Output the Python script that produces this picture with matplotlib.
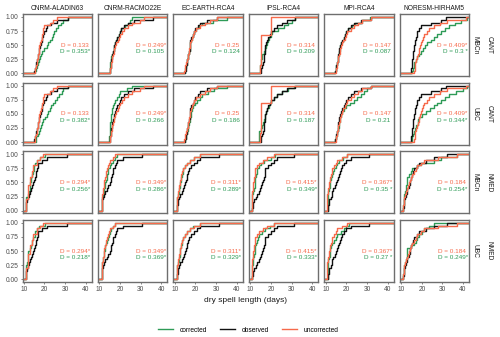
import numpy as np
import matplotlib.pyplot as plt
from matplotlib.lines import Line2D

plt.rcParams['font.family'] = ['Liberation Sans', 'DejaVu Sans']

# model chains (columns), region / method (rows)
models = ["CNRM-ALADIN63", "CNRM-RACMO22E", "EC-EARTH-RCA4",
          "IPSL-RCA4", "MPI-RCA4", "NORESM-HIRHAM5"]
row_regions = ["CANT", "CANT", "NMED", "NMED"]
row_methods = ["MBCn", "UBC", "MBCn", "UBC"]

# dry spell lengths (days), one list per model
obs_cant = [
    [15, 15.5, 16, 16, 16.5, 17, 17, 17.5, 17.5, 18, 18.5, 19, 19, 19.5, 20, 20.5, 21, 23, 26, 31.5],
    [15, 15.2, 15.4, 15.6, 15.8, 15.9, 16, 16.5, 17, 17.3, 17.6, 18.1, 18.7, 19.3, 19.8, 20.4, 22, 24.1, 26.6, 36.3],
    [14.8, 15.2, 15.5, 15.8, 16, 16.3, 16.6, 16.9, 17.1, 17.3, 17.4, 17.5, 18, 18.6, 19.2, 19.9, 21, 22.4, 25.6, 30.5],
    [15, 15.4, 15.8, 16.1, 16.4, 16.6, 16.8, 17, 17.2, 17.3, 17.7, 18.2, 18.8, 19.3, 19.8, 21.5, 23, 25.5, 27.9, 31.9],
    [14.6, 14.8, 15.1, 15.4, 15.7, 15.9, 16.1, 16.3, 16.6, 16.8, 17.4, 18, 18.6, 19.1, 19.6, 20.8, 22.3, 23.7, 27, 31.8],
    [14.6, 14.8, 15, 15.2, 15.4, 15.5, 15.7, 15.8, 16, 16.2, 16.5, 16.8, 17.1, 17.5, 17.8, 18.5, 19.4, 24.3, 29.2, 31.6],
]
unc_cant = [
    [15.4, 15.5, 16, 16.2, 16.5, 16.8, 17, 17.2, 17.4, 17.5, 18, 18.1, 18.6, 19, 19.1, 19.5, 19.9, 22.7, 24, 26],
    [15.2, 15.3, 15.5, 15.7, 16, 16, 16.5, 17, 17.3, 17.6, 18.2, 18.8, 19.3, 20, 20.9, 22, 24.1, 26, 29.8, 31.5],
    [14.6, 14.7, 15, 15.5, 15.9, 16.2, 16.5, 16.8, 17, 17.2, 17.5, 17.8, 18.3, 18.8, 19.1, 20.5, 22.4, 24.8, 27.2, 30.5],
    [14.6, 14.6, 14.6, 15, 15, 15, 15, 15, 15, 15, 15, 15, 15, 19.8, 19.8, 19.8, 19.8, 19.8, 19.8],
    [14.7, 14.9, 15.2, 15.5, 15.8, 16.1, 16.4, 16.7, 17, 17.2, 17.8, 18.5, 19.2, 19.8, 20.4, 22, 23.7, 25.7, 27.7, 31.8],
    [16.2, 16.4, 16.6, 16.8, 17, 17.5, 18, 18.4, 18.8, 19.1, 19.7, 20.2, 20.7, 21.1, 22.3, 23.5, 25.9, 29, 32.4, 41.4],
]
mbcn_cant = [
    [15.6, 15.8, 16.5, 17, 17.3, 17.8, 18.2, 18.6, 20, 21, 21.8, 22.7, 23.5, 24, 24.6, 25.5, 26.7, 28, 29.2, 31.6],
    [15, 15.1, 15.2, 15.3, 15.4, 15.5, 16, 16.5, 17, 17.3, 17.6, 17.9, 18.6, 19.3, 19.9, 20.4, 22.5, 24.1, 25, 25.8],
    [14.8, 15.1, 15.4, 15.7, 16, 16.3, 16.6, 16.9, 17.1, 17.3, 17.5, 17.8, 18.3, 18.9, 19.5, 20.3, 21.5, 23, 28.7, 35.4],
    [14.6, 14.8, 14.9, 15.2, 15.4, 15.6, 15.7, 16.5, 17.2, 17.8, 18.2, 18.6, 18.9, 19.8, 20.6, 23.5, 26.3, 28.5, 30.3, 31.9],
    [14.5, 14.8, 15.1, 15.4, 15.7, 16, 16.2, 16.5, 16.7, 17, 17.5, 18.1, 18.7, 19.3, 19.9, 21, 22.5, 24, 27.5, 31.5],
    [15.4, 15.6, 15.9, 16.2, 17, 17.8, 18.6, 19.4, 20.5, 21.6, 22.7, 24.3, 25.9, 27.5, 29.2, 31.2, 33.3, 36, 38.9, 42],
]
ubc_cant = [
    [15.7, 16, 16.8, 17.3, 17.7, 18.3, 19, 19.5, 20.3, 21.1, 21.8, 22.5, 23.2, 24, 25.1, 26, 27, 28.3, 29.2, 31.6],
    [14.8, 14.9, 15, 15, 15.1, 15.1, 15.2, 15.5, 15.7, 15.8, 15.9, 16, 16.6, 17.1, 17.6, 18.5, 19.3, 20.1, 23.3, 25.8],
    [14.8, 15.2, 15.6, 16, 16.3, 16.6, 16.9, 17.2, 17.5, 17.7, 17.9, 18.3, 19, 19.8, 20.7, 22, 23.2, 26, 28.9, 35.4],
    [14.1, 14.1, 14.2, 14.4, 15, 15.6, 16.2, 16.7, 17, 17.3, 17.8, 18.3, 18.9, 19.4, 19.8, 21.3, 23, 25.5, 28.5, 31.1],
    [14.6, 14.9, 15.2, 15.6, 15.9, 16.2, 16.5, 16.8, 17, 17.2, 18, 18.8, 19.6, 21.5, 23.7, 25.3, 26.9, 28.5, 30.2, 31.8],
    [15.2, 15.4, 15.6, 15.9, 16.6, 17.3, 17.9, 18.3, 18.6, 20.2, 21.9, 23.9, 25.9, 27.5, 29.2, 31.2, 33.3, 36.5, 39.8, 42],
]

obs_nmed = [
    [11, 11.1, 11.2, 11.3, 12.2, 12.6, 12.9, 13.5, 14.1, 14.6, 15, 15.4, 15.7, 15.9, 16.3, 16.6, 17, 18.6, 21.1, 30.8],
    [11.1, 11.1, 11.1, 11.1, 11.8, 12.3, 12.8, 13.6, 14.4, 15.2, 15.5, 15.8, 16.1, 16.5, 16.8, 17.4, 18, 18.5, 21.7, 30.7],
    [11, 11.2, 11.5, 11.7, 11.8, 12.6, 13.4, 14, 14.5, 15, 15.4, 15.8, 16.1, 16.4, 16.7, 17.9, 19.1, 20.8, 22.4, 31.3],
    [10.9, 11.1, 11.3, 11.6, 12.5, 13.3, 14.1, 14.6, 15.2, 15.7, 16.1, 16.5, 16.9, 17.1, 17.3, 18.5, 19.8, 21.5, 23, 31.1],
    [10.9, 11.1, 11.3, 11.5, 12.3, 12.8, 13.1, 13.7, 14.2, 14.7, 15.2, 15.7, 16.2, 16.7, 17.2, 18, 18.8, 19.6, 22, 31],
    [10.9, 11.1, 11.2, 11.3, 11.9, 12.4, 12.7, 12.9, 13.5, 14, 14.4, 14.6, 15.2, 15.7, 16.2, 17.4, 18.6, 22, 25.9, 32.4],
]
unc_nmed = [
    [11, 11, 11, 11.2, 12, 12, 12.1, 12.1, 12.1, 12.9, 12.9, 12.9, 13.7, 13.7, 14.6, 14.6, 16.2, 16.2, 17.8, 19.4],
    [11.1, 11.1, 11.1, 11.1, 11.1, 11.1, 11.6, 11.8, 12, 12, 12.4, 12.7, 13, 13.3, 13.8, 14.2, 14.7, 15.2, 16.5, 17.6],
    [11, 11, 11, 11, 11, 11.4, 11.7, 12, 12.2, 12.3, 12.6, 12.9, 13.2, 13.6, 13.9, 14.9, 15.9, 17.5, 19.1, 22.4],
    [10.8, 10.8, 10.8, 10.8, 10.8, 10.8, 10.8, 11.2, 11.4, 11.5, 11.6, 11.6, 12, 12.2, 12.4, 13.2, 14.1, 16, 18.1, 21.4],
    [10.7, 10.7, 10.7, 10.7, 10.7, 10.7, 11, 11.2, 11.4, 11.5, 11.8, 12.2, 12.5, 12.8, 13.1, 14, 14.8, 15.5, 18, 20.4],
    [10.9, 11, 11.1, 11.2, 11.3, 11.8, 12.3, 12.8, 13.3, 13.7, 14.2, 14.8, 15.4, 16.2, 17, 17.8, 19.5, 21.1, 27.6, 37.3],
]
mbcn_nmed = [
    [11, 11, 11, 11, 11, 12, 12.4, 12.8, 13, 13.1, 13.3, 13.3, 14, 14.5, 14.9, 14.9, 15.5, 16.2, 18, 20.2],
    [11.1, 11.1, 11.1, 11.1, 11.1, 11.5, 12, 12.3, 12.6, 12.8, 13.2, 13.5, 13.8, 14.1, 14.4, 15, 15.6, 16.5, 17.5, 18.5],
    [11, 11, 11, 11, 11, 11.3, 11.8, 12.1, 12.3, 12.5, 12.8, 13.1, 13.4, 13.7, 14, 15, 16, 17.5, 19.5, 22.4],
    [10.8, 10.8, 10.8, 10.8, 10.8, 10.8, 11.3, 11.7, 12, 12.2, 12.4, 12.4, 12.8, 13.1, 13.3, 14.3, 15.4, 16.5, 19.8, 22.2],
    [10.8, 10.9, 11, 11, 11, 11, 11, 11.5, 11.8, 12, 12.2, 12.3, 12.8, 13.4, 13.9, 14.8, 15.6, 16.3, 18.5, 20.4],
    [10.9, 11, 11.1, 11.2, 11.3, 11.3, 11.8, 12.1, 12.4, 12.6, 12.8, 12.9, 13.7, 14.5, 15.4, 17.4, 19.4, 25.9, 29.2, 37.3],
]
ubc_nmed = [
    [11, 11, 11, 11, 11.1, 11.5, 12.1, 12.1, 12.1, 12.1, 12.8, 13.2, 13.7, 13.7, 14.5, 15.4, 15.4, 16.2, 17.5, 20.2],
    [11.1, 11.1, 11.1, 11.1, 11.1, 11.3, 11.6, 11.9, 12.1, 12.3, 12.6, 12.9, 13.2, 13.5, 14, 14.5, 15, 15.5, 16.5, 17.6],
    [11, 11, 11, 11, 11, 11.5, 11.8, 12.1, 12.3, 12.5, 12.7, 13, 13.3, 13.6, 13.9, 15, 16, 17.3, 19, 22.4],
    [10.8, 10.8, 10.8, 10.9, 11, 11.1, 11.1, 11.5, 11.8, 12.1, 12.3, 12.4, 12.8, 13.2, 13.6, 14.1, 15.5, 17.3, 19.5, 21.4],
    [10.8, 10.9, 11, 11, 11, 11, 11, 11.5, 11.8, 12, 12.2, 12.3, 13.1, 13.9, 14.7, 15.5, 17.2, 18.8, 20, 21.2],
    [10.9, 11, 11.1, 11.2, 11.3, 11.8, 12.2, 12.5, 12.7, 12.8, 12.9, 14.5, 16.2, 17, 17.8, 18.6, 19.8, 21.1, 23.5, 25.9],
]

# Kolmogorov-Smirnov labels (* = significant)
d_unc_cant = ["D = 0.133 ", "D = 0.249*", "D = 0.25 ", "D = 0.314 ", "D = 0.147 ", "D = 0.409*"]
d_mbcn_cant = ["D = 0.353*", "D = 0.105 ", "D = 0.124 ", "D = 0.209 ", "D = 0.087 ", "D = 0.3 *"]
d_ubc_cant = ["D = 0.382*", "D = 0.266 ", "D = 0.186 ", "D = 0.187 ", "D = 0.21 ", "D = 0.344*"]
d_unc_nmed = ["D = 0.294*", "D = 0.349*", "D = 0.311*", "D = 0.415*", "D = 0.367*", "D = 0.184 "]
d_mbcn_nmed = ["D = 0.256*", "D = 0.286*", "D = 0.289*", "D = 0.349*", "D = 0.35 *", "D = 0.254*"]
d_ubc_nmed = ["D = 0.218*", "D = 0.369*", "D = 0.329*", "D = 0.333*", "D = 0.27 *", "D = 0.249*"]

COR_CORR = '#2E9B57'
COR_OBS = '#111111'
COR_UNC = '#F66A4B'
XLIM = (9.3, 42.9)
YLIM = (-0.05, 1.05)


def ecdf_step(ax, valores, cor):
    x = np.sort(np.asarray(valores, dtype=float))
    y = np.arange(1, len(x) + 1) / len(x)
    xs = np.concatenate([[XLIM[0]], x, [XLIM[1]]])
    ys = np.concatenate([[0.0], y, [1.0]])
    ax.step(xs, ys, where='post', color=cor, linewidth=1.0)


def main():
    linhas = [
        (obs_cant, unc_cant, mbcn_cant, d_unc_cant, d_mbcn_cant),
        (obs_cant, unc_cant, ubc_cant, d_unc_cant, d_ubc_cant),
        (obs_nmed, unc_nmed, mbcn_nmed, d_unc_nmed, d_mbcn_nmed),
        (obs_nmed, unc_nmed, ubc_nmed, d_unc_nmed, d_ubc_nmed),
    ]

    fig = plt.figure(figsize=(5, 3.37), dpi=100)
    axes = fig.subplots(4, 6, sharex=True, sharey=True)
    fig.subplots_adjust(left=0.045, right=0.938, top=0.958, bottom=0.163,
                        wspace=0.093, hspace=0.105)

    for i, (obs, unc, corr, d_unc, d_corr) in enumerate(linhas):
        for j in range(6):
            ax = axes[i, j]
            ecdf_step(ax, corr[j], COR_CORR)
            ecdf_step(ax, obs[j], COR_OBS)
            ecdf_step(ax, unc[j], COR_UNC)

            ax.text(42.3, 0.5, d_unc[j], color=COR_UNC, fontsize=4.6,
                    ha='right', va='center')
            ax.text(42.3, 0.38, d_corr[j], color=COR_CORR, fontsize=4.6,
                    ha='right', va='center')

            ax.set_xlim(*XLIM)
            ax.set_ylim(*YLIM)
            ax.set_xticks([10, 20, 30, 40])
            ax.set_yticks([0, 0.25, 0.5, 0.75, 1.0])
            ax.set_yticklabels(['0.00', '0.25', '0.50', '0.75', '1.00'])
            for s in ax.spines.values():
                s.set_color('#6E6E6E')
                s.set_linewidth(1.0)
            ax.tick_params(length=1.6, width=0.5, color='#555555',
                           labelsize=4.8, labelcolor='#4D4D4D', pad=1.2,
                           bottom=(i == 3), left=(j == 0))

            if i == 0:
                ax.set_title(models[j], fontsize=4.8, color='#1A1A1A', pad=3)
            if j == 5:
                ax.text(1.04, 0.5, row_methods[i], transform=ax.transAxes,
                        rotation=-90, fontsize=4.8, color='#1A1A1A',
                        ha='left', va='center')
                ax.text(1.24, 0.5, row_regions[i], transform=ax.transAxes,
                        rotation=-90, fontsize=4.8, color='#1A1A1A',
                        ha='left', va='center')

    fig.text(0.492, 1 - 300 / 337, 'dry spell length (days)', fontsize=6,
             ha='center', va='center', color='#1A1A1A')

    handles = [Line2D([], [], color=COR_CORR, linewidth=1.0),
               Line2D([], [], color=COR_OBS, linewidth=1.0),
               Line2D([], [], color=COR_UNC, linewidth=1.0)]
    fig.legend(handles, ['corrected', 'observed', 'uncorrected'],
               loc='center', bbox_to_anchor=(0.496, 1 - 330 / 337), ncol=3,
               frameon=False, fontsize=4.8, handlelength=2.3,
               handletextpad=0.9, columnspacing=2.0)

    fig.savefig('out.png', dpi=100)


if __name__ == "__main__":
    main()
